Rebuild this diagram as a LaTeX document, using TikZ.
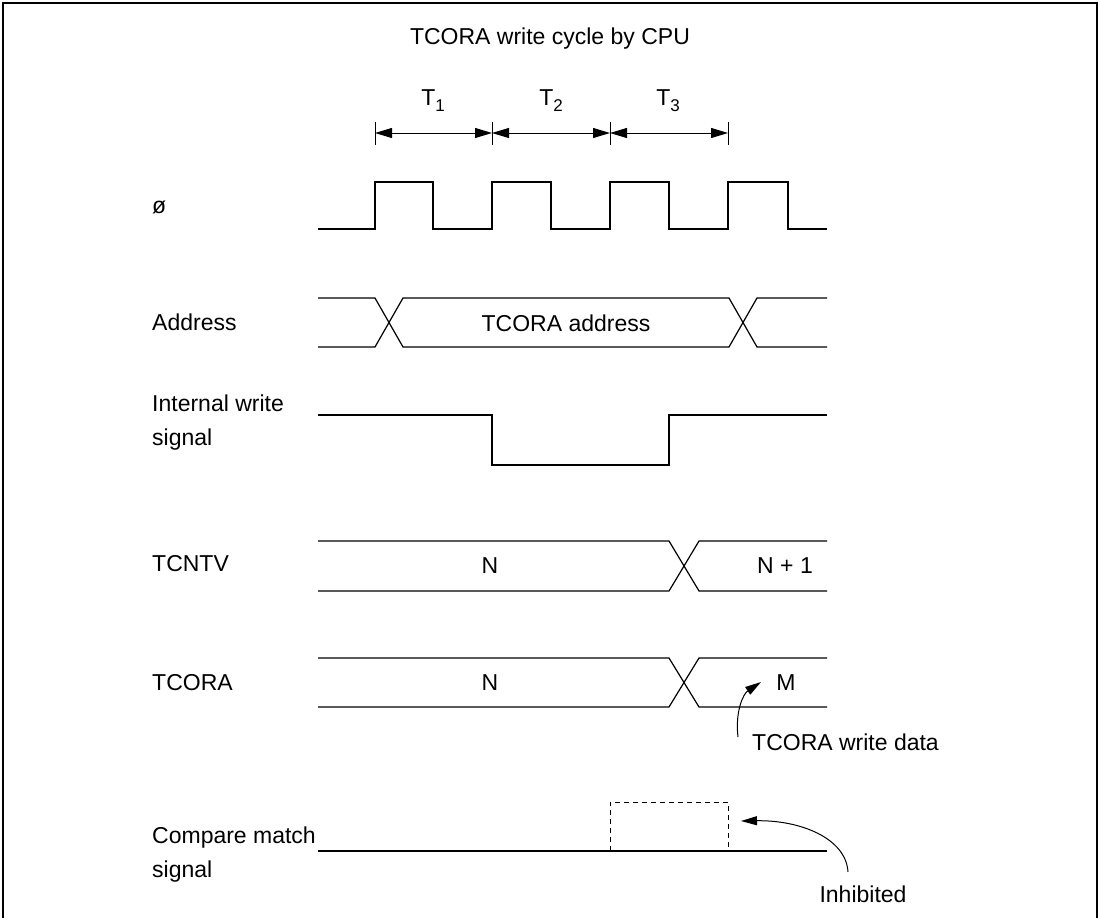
\documentclass[tikz,border=0pt]{standalone}
\usepackage{fontspec}
\setmainfont{Liberation Sans}
\usetikzlibrary{arrows.meta}
\newcommand\tsub[1]{T\raisebox{-0.26em}{\fontsize{17}{17}\selectfont #1}}
\begin{document}
\begin{tikzpicture}[x=1pt,y=-1pt,
  sig/.style={line width=1.2pt, line join=miter},
  lbl/.style={font=\fontsize{23}{34}\selectfont, inner sep=0pt, anchor=west, align=left},
  txt/.style={font=\fontsize{23}{27}\selectfont, inner sep=0pt},
  dim/.style={{Triangle[length=17pt,width=10pt]}-{Triangle[length=17pt,width=10pt]}, line width=1pt},
  tick/.style={line width=1pt},
  callout/.style={-{Triangle[length=16pt,width=9pt]}, line width=1pt},
]
\useasboundingbox (0,0) rectangle (1100,918);
\draw[line width=1.3pt] (3,918) -- (3,3) -- (1097,3) -- (1097,918);

\node[txt] (title) at (550,39) {TCORA write cycle by CPU};

% T1..T3 dimension arrows
\foreach \x/\n in {375/a,492/b,610/c,728/d}{
  \coordinate (t\n) at (\x,133);
  \draw[tick] (\x,122) -- (\x,145);
}
\draw[dim] (ta) -- (tb);
\draw[dim] (tb) -- (tc);
\draw[dim] (tc) -- (td);
\node[txt] (T1) at (433,101) {\tsub{1}};
\node[txt] (T2) at (551,101) {\tsub{2}};
\node[txt] (T3) at (668,101) {\tsub{3}};

% labels
\node[lbl] (lphi) at (152,207) {ø};
\node[lbl] (laddr) at (152,322) {Address};
\node[lbl] (lws) at (152,423) {Internal write\\signal};
\node[lbl] (ltcntv) at (152,564) {TCNTV};
\node[lbl] (ltcora) at (152,683) {TCORA};
\node[lbl] (lcm) at (152,855) {Compare match\\signal};

% clock
\draw[sig] (318,229) -- (375,229) -- (375,182) -- (433,182) -- (433,229) -- (492,229)
  -- (492,182) -- (551,182) -- (551,229) -- (610,229) -- (610,182) -- (669,182)
  -- (669,229) -- (728,229) -- (728,182) -- (788,182) -- (788,229) -- (827,229);

% address
\draw[sig] (318,298) -- (375,298) -- (403,347) -- (729,347) -- (757,298) -- (827,298);
\draw[sig] (318,347) -- (375,347) -- (403,298) -- (729,298) -- (757,347) -- (827,347);
\node[txt] (addr) at (566,323) {TCORA address};

% internal write
\draw[sig] (318,415) -- (492,415) -- (492,465) -- (669,465) -- (669,415) -- (827,415);

% TCNTV
\draw[sig] (318,541) -- (669,541) -- (699,591) -- (827,591);
\draw[sig] (318,591) -- (669,591) -- (699,541) -- (827,541);
\node[txt] (n1) at (490,566) {N};
\node[txt] (n1p) at (785,566) {N + 1};

% TCORA
\draw[sig] (318,658) -- (669,658) -- (699,707) -- (827,707);
\draw[sig] (318,707) -- (669,707) -- (699,658) -- (827,658);
\node[txt] (n2) at (490,683) {N};
\node[txt] (m) at (786,683) {M};
\node[txt, anchor=west] (wd) at (752,742) {TCORA write data};
\coordinate (wdtail) at (738,737);
\coordinate (wdhead) at (761,682);
\draw[callout] (wdtail) .. controls (735,712) and (743,694) .. (wdhead);

% compare match
\draw[sig] (318,851) -- (827,851);
\draw[line width=1pt, dashed, dash pattern=on 5pt off 4pt] (610,851) -- (610,802) -- (728,802) -- (728,851);
\node[txt] (inh) at (863,894) {Inhibited};
\coordinate (inhtail) at (848,872);
\coordinate (inhhead) at (741,821);
\draw[callout] (inhtail) .. controls (846,838) and (800,820) .. (inhhead);
\end{tikzpicture}
\end{document}
